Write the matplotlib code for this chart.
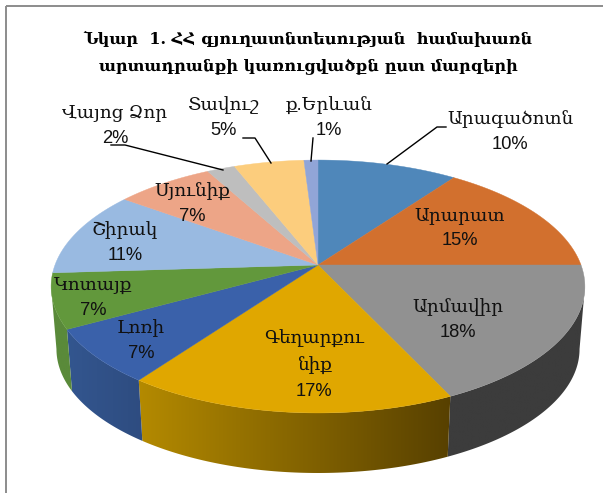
import numpy as np
import matplotlib
matplotlib.use("Agg")
import matplotlib.pyplot as plt
from matplotlib.patches import Polygon, Rectangle
from matplotlib.colors import to_rgb

plt.rcParams['font.family'] = ['DejaVu Serif', 'DejaVu Sans']

regions = ['Արագածոտն', 'Արարատ', 'Արմավիր', 'Գեղարքու\nնիք', 'Լոռի', 'Կոտայք',
           'Շիրակ', 'Սյունիք', 'Վայոց Ձոր', 'Տավուշ', 'ք.Երևան']
shares = [10, 15, 18, 17, 7, 7, 11, 7, 2, 5, 1]
colors = ['#4F87BA', '#D2702E', '#919191', '#E0A700', '#3A61AA', '#62983C',
          '#99BAE1', '#EDA587', '#BEBEBE', '#FCCD7D', '#91A5D7']
wall_left = ['#3F6C95', '#A85A25', '#3C3C3C', '#B48A00', '#33568F', '#5A8A3A',
             '#7A95B4', '#BE846C', '#989898', '#CAA464', '#7484AC']
wall_right = ['#2A4863', '#703C18', '#3C3C3C', '#574000', '#2E4C80', '#5A8A3A',
              '#516378', '#7F5848', '#656565', '#866D43', '#4D5872']
title = 'Նկար  1. ՀՀ գյուղատնտեսության  համախառն\nարտադրանքի կառուցվածքն ըստ մարզերի'
label_pos = [(510, 132), (460, 228), (458, 320), (314, 365), (141, 341), (93, 298),
             (125, 243), (192, 204), (115, 126), (224, 118), (329, 118)]
leaders = [[(387, 164), (437, 127), (446, 127)],
           [(111, 145), (125, 145), (223, 170)],
           [(243, 138), (255, 138), (271, 163)],
           [(313, 138), (311, 161)]]

W, H = 603, 493
fig = plt.figure(figsize=(W / 100, H / 100), dpi=100)
ax = fig.add_axes([0, 0, 1, 1])
ax.axis('off')

ax.add_patch(Rectangle((5.5, 5.5), 640, 640, fill=False, ec='#8C8C8C', lw=1.4))

CX, CY, A, B, K = 318, 265, 263, 122.8, 0.17
DEPTH, SCALE = 63, 0.98
SIL = np.arcsin(K)


def rim(theta, bottom=False):
    x, y = np.sin(theta), np.cos(theta)
    w = 1 + K * y
    s, d = (SCALE, DEPTH) if bottom else (1, 0)
    return np.column_stack([CX + s * A * x / w, CY + d - s * B * y / w])


edges = np.radians(np.cumsum([0] + shares) * 360 / sum(shares))

# side wall: one horizontal gradient per visible slice
for i in range(len(shares)):
    lo, hi = max(edges[i], np.pi / 2 + SIL), min(edges[i + 1], 3 * np.pi / 2 - SIL)
    if hi <= lo:
        continue
    ts = np.linspace(lo, hi, 80)
    pts = np.vstack([rim(ts), rim(ts[::-1], bottom=True)])
    poly = Polygon(pts, closed=True, fc='none', ec='none', transform=ax.transData)
    ax.add_patch(poly)
    c0, c1 = np.array(to_rgb(wall_left[i])), np.array(to_rgb(wall_right[i]))
    grad = np.linspace(0, 1, 256)[None, :, None]
    img = c0[None, None, :] * (1 - grad) + c1[None, None, :] * grad
    im = ax.imshow(img, extent=(pts[:, 0].min() - 1, pts[:, 0].max() + 1,
                                pts[:, 1].max() + 1, pts[:, 1].min() - 1),
                   aspect='auto', zorder=2, interpolation='bilinear')
    im.set_clip_path(poly)

ax.set_xlim(0, W)
ax.set_ylim(H, 0)

# top face
for i in range(len(shares)):
    ts = np.linspace(edges[i], edges[i + 1], 80)
    pts = np.vstack([[CX, CY], rim(ts)])
    ax.add_patch(Polygon(pts, closed=True, fc=colors[i], ec=colors[i], lw=0.3, zorder=3))

for pts in leaders:
    p = np.array(pts)
    ax.plot(p[:, 0], p[:, 1], color='black', lw=1.0, zorder=4)

for name, share, (x, y) in zip(regions, shares, label_pos):
    ax.text(x, y, f'{name}\n{share}%', ha='center', va='center', fontsize=13.2,
            color='#111111', linespacing=1.6, zorder=5,
            family=['Liberation Sans', 'DejaVu Serif', 'DejaVu Sans'])

ax.text(308, 53, title, ha='center', va='center', fontsize=11.6, fontweight='bold',
        linespacing=1.75, color='black', zorder=5)

fig.savefig('out.png', dpi=100)
